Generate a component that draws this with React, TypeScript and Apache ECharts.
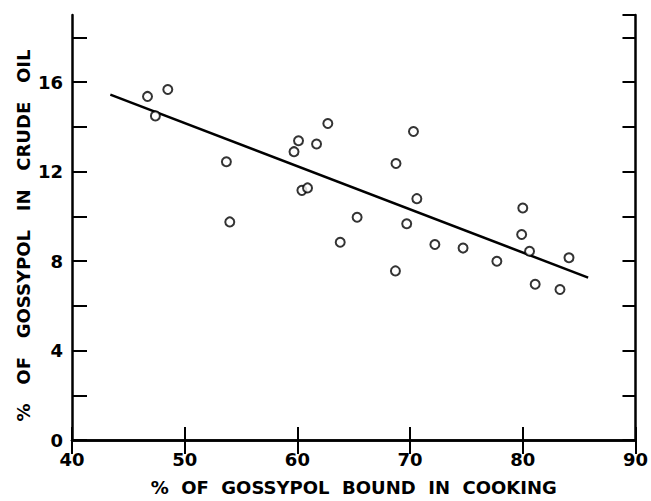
import React, { useEffect, useRef } from "react";
import * as echarts from "echarts";

const boundPct: number[] = [46.7, 47.4, 48.5, 53.7, 54.0, 59.7, 60.1, 60.4, 60.9, 61.7, 62.7, 63.8, 65.3, 68.7, 68.75, 69.7, 70.3, 70.6, 72.2, 74.7, 77.7, 79.9, 80.0, 80.6, 81.1, 83.3, 84.1];
const crudeOilPct: number[] = [15.36, 14.49, 15.67, 12.44, 9.75, 12.89, 13.38, 11.16, 11.27, 13.23, 14.15, 8.84, 9.96, 7.56, 12.36, 9.67, 13.79, 10.79, 8.74, 8.58, 7.99, 9.19, 10.37, 8.44, 6.96, 6.73, 8.15];
const fitX: number[] = [43.4, 85.8];
const fitY: number[] = [15.44, 7.26];
const xTickLabels: string[] = ["40", "50", "60", "70", "80", "90"];
const yTickLabels: string[] = ["0", "4", "8", "12", "16"];

const FONT = "DejaVu Sans";

export default function App() {
  const ref = useRef<HTMLDivElement>(null);
  useEffect(() => {
    if (!ref.current) return;
    const chart = echarts.init(ref.current, null, { renderer: "svg" });
    const scatterData = boundPct.map((x, i) => [x, crudeOilPct[i]]);
    const fitData = fitX.map((x, i) => [x, fitY[i]]);
    const axisLine = { show: true, lineStyle: { color: "#000", width: 2.5 } };
    chart.setOption({
      animation: false,
      backgroundColor: "#fff",
      grid: { left: 72, right: 11, top: 15, bottom: 58, containLabel: false },
      xAxis: [
        {
          type: "value",
          min: 40,
          max: 90,
          interval: 10,
          position: "bottom",
          name: "%  OF  GOSSYPOL  BOUND  IN  COOKING",
          nameLocation: "middle",
          nameGap: 38,
          nameTextStyle: { fontFamily: FONT, fontSize: 18, fontWeight: "bold", color: "#000" },
          axisLine,
          axisTick: { show: true, inside: true, length: 13, lineStyle: { color: "#000", width: 2 } },
          axisLabel: {
            show: true,
            margin: 10,
            fontFamily: FONT,
            fontSize: 18,
            fontWeight: "bold",
            color: "#000",
            formatter: (v: number) => (xTickLabels.includes(String(v)) ? String(v) : ""),
          },
          splitLine: { show: false },
        },
        {
          type: "value",
          min: 40,
          max: 90,
          interval: 10,
          position: "top",
          axisLine,
          axisTick: { show: true, inside: true, length: 14, lineStyle: { color: "#000", width: 2 } },
          axisLabel: { show: false },
          splitLine: { show: false },
        },
      ],
      yAxis: [
        {
          type: "value",
          min: 0,
          max: 19,
          interval: 2,
          position: "left",
          name: "%   OF   GOSSYPOL   IN   CRUDE   OIL",
          nameLocation: "middle",
          nameGap: 40,
          nameMoveOverlap: false,
          nameTextStyle: { fontFamily: FONT, fontSize: 18, fontWeight: "bold", color: "#000", padding: [0, 16, 0, 0] },
          axisLine,
          axisTick: { show: true, inside: true, length: 15, lineStyle: { color: "#000", width: 2 } },
          axisLabel: {
            show: true,
            margin: 9,
            fontFamily: FONT,
            fontSize: 18,
            fontWeight: "bold",
            color: "#000",
            showMaxLabel: false,
            formatter: (v: number) => (yTickLabels.includes(String(v)) ? String(v) : ""),
          },
          splitLine: { show: false },
        },
        {
          type: "value",
          min: 0,
          max: 19,
          interval: 2,
          position: "right",
          axisLine,
          axisTick: { show: true, inside: true, length: 13, lineStyle: { color: "#000", width: 2 } },
          axisLabel: { show: false },
          splitLine: { show: false },
        },
      ],
      series: [
        {
          type: "line",
          data: fitData,
          xAxisIndex: 0,
          yAxisIndex: 0,
          symbol: "none",
          lineStyle: { color: "#000", width: 2.5 },
          z: 2,
        },
        {
          type: "scatter",
          data: scatterData,
          xAxisIndex: 0,
          yAxisIndex: 0,
          symbol: "circle",
          symbolSize: 9,
          itemStyle: { color: "#fff", borderColor: "#000", borderWidth: 2 },
          z: 3,
        },
      ],
    });
    return () => chart.dispose();
  }, []);
  return <div ref={ref} style={{ width: 651, height: 501, position: "absolute", left: 0, top: 0 }} />;
}
